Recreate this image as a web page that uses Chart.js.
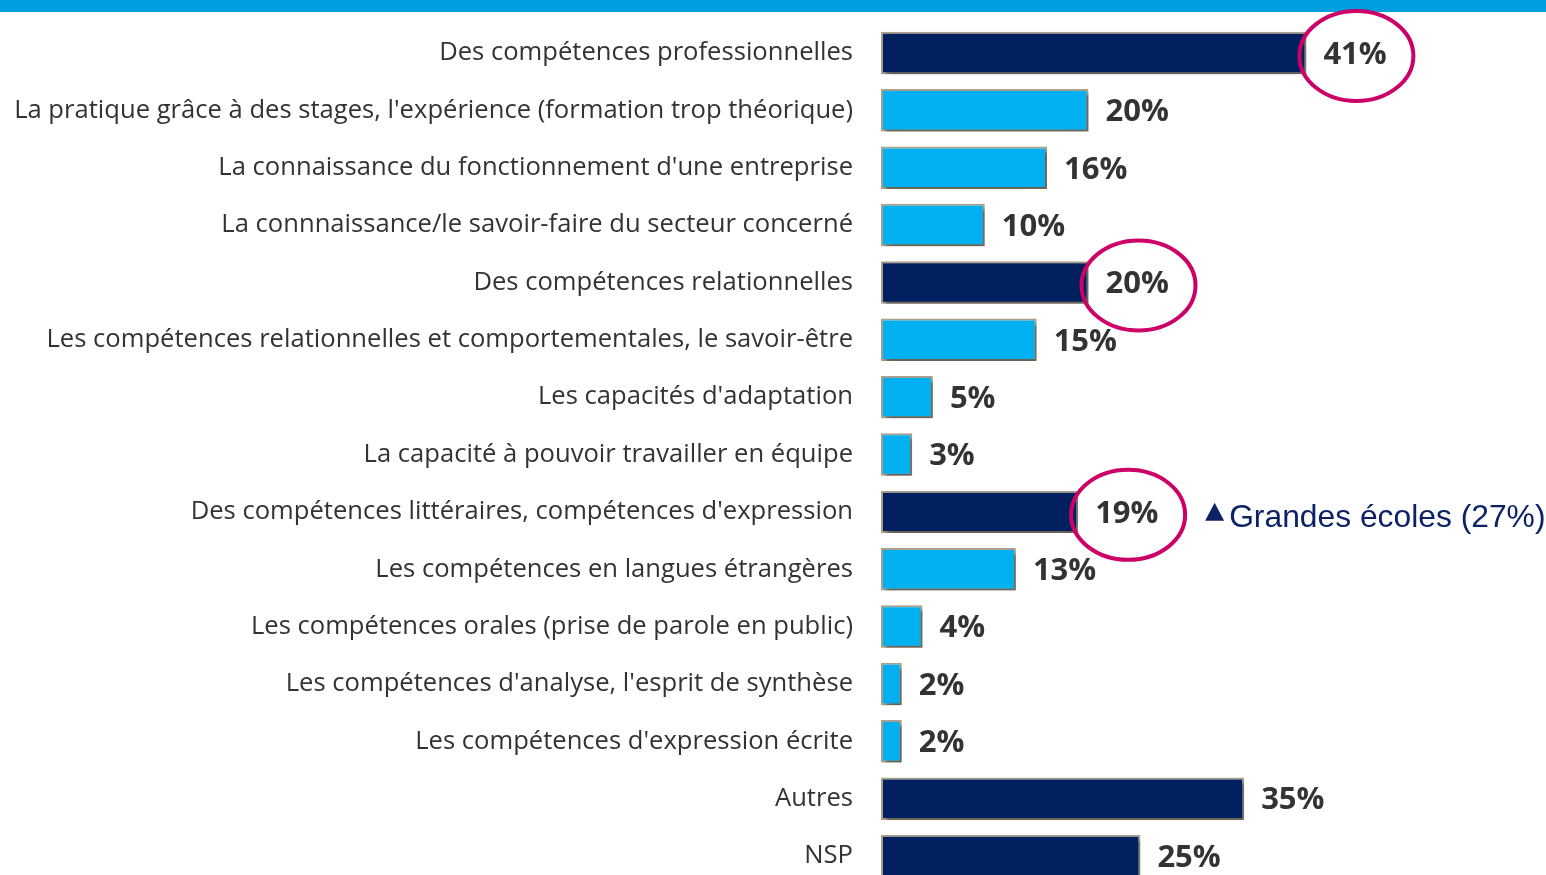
<!DOCTYPE html>
<html><head><meta charset="utf-8">
<script src="https://cdn.jsdelivr.net/npm/chart.js@4"></script>
<style>html,body{margin:0;padding:0;overflow:hidden;background:#fff}#wrap{width:1546px;height:900px;position:relative}</style>
</head><body><div id="wrap"><canvas id="c" width="1546" height="900"></canvas></div>
<script>
const categories = [
  "Des compétences professionnelles",
  "La pratique grâce à des stages, l'expérience (formation trop théorique)",
  "La connaissance du fonctionnement d'une entreprise",
  "La connnaissance/le savoir-faire du secteur concerné",
  "Des compétences relationnelles",
  "Les compétences relationnelles et comportementales, le savoir-être",
  "Les capacités d'adaptation",
  "La capacité à pouvoir travailler en équipe",
  "Des compétences littéraires, compétences d'expression",
  "Les compétences en langues étrangères",
  "Les compétences orales (prise de parole en public)",
  "Les compétences d'analyse, l'esprit de synthèse",
  "Les compétences d'expression écrite",
  "Autres",
  "NSP"
];
const values = [41, 20, 16, 10, 20, 15, 5, 3, 19, 13, 4, 2, 2, 35, 25];
const headerRows = [0, 4, 8, 13, 14];
const circledRows = [0, 4, 8];
const noteRow = 8;
const noteText = "Grandes écoles (27%)";

const NAVY = '#002060', LIGHT = '#00b0f0';
const colors = values.map((v, i) => headerRows.includes(i) ? NAVY : LIGHT);

const mctx = document.createElement('canvas').getContext('2d');
mctx.font = '24px "Open Sans"';
const longest = Math.max(...categories.map(c => mctx.measureText(c).width));
const labelSize = Math.round(24 * 840 / longest * 10) / 10;

const shadowPlugin = {
  id: 'shadow',
  beforeDatasetsDraw(chart) {
    const ctx = chart.ctx; ctx.save();
    ctx.shadowColor = 'rgba(0,0,0,0.38)';
    ctx.shadowOffsetX = 3; ctx.shadowOffsetY = 4; ctx.shadowBlur = 3;
  },
  afterDatasetsDraw(chart) { chart.ctx.restore(); }
};

const decoPlugin = {
  id: 'deco',
  afterDraw(chart) {
    const ctx = chart.ctx;
    ctx.save();
    ctx.fillStyle = '#00a0e0';
    ctx.fillRect(0, 0, chart.width, 12);
    const meta = chart.getDatasetMeta(0);
    ctx.font = 'bold 31px "Open Sans"';
    ctx.fillStyle = '#333333';
    ctx.textBaseline = 'middle';
    ctx.textAlign = 'left';
    meta.data.forEach((bar, i) => {
      ctx.fillText(values[i] + '%', bar.x + 17, bar.y + 2);
    });
    ctx.strokeStyle = '#cc0066';
    ctx.lineWidth = 4;
    circledRows.forEach(i => {
      const bar = meta.data[i];
      ctx.beginPath();
      ctx.ellipse(bar.x + 50, bar.y + 3, 57, 45, 0, 0, Math.PI * 2);
      ctx.stroke();
    });
    const nb = meta.data[noteRow];
    const nx = nb.x + 127;
    const ny = nb.y + 6;
    ctx.fillStyle = '#0d2266';
    ctx.beginPath();
    ctx.moveTo(nx, ny + 3); ctx.lineTo(nx + 19, ny + 3); ctx.lineTo(nx + 9.5, ny - 15);
    ctx.closePath(); ctx.fill();
    ctx.font = '31.8px "Liberation Sans"';
    ctx.fillText(noteText, nx + 24, ny);
    ctx.restore();
  }
};

new Chart(document.getElementById('c'), {
  type: 'bar',
  data: {
    labels: categories,
    datasets: [{
      data: values,
      backgroundColor: colors,
      borderColor: '#a99f8a',
      borderWidth: 2,
      borderSkipped: false,
      barPercentage: 0.74,
      categoryPercentage: 1
    }]
  },
  options: {
    indexAxis: 'y',
    responsive: false,
    animation: false,
    events: [],
    layout: { padding: { top: 24.3, bottom: 15.3, right: 1, left: 0 } },
    plugins: { legend: { display: false }, tooltip: { enabled: false } },
    scales: {
      x: { min: 0, max: 64, display: false },
      y: {
        grid: { display: false, drawTicks: false },
        border: { display: false },
        ticks: { color: '#333333', padding: 28, font: { family: '"Open Sans"', size: labelSize } },
        afterFit(scale) { scale.width = 881; scale.paddingTop = 0; scale.paddingBottom = 0; }
      }
    }
  },
  plugins: [shadowPlugin, decoPlugin]
});
</script></body></html>
